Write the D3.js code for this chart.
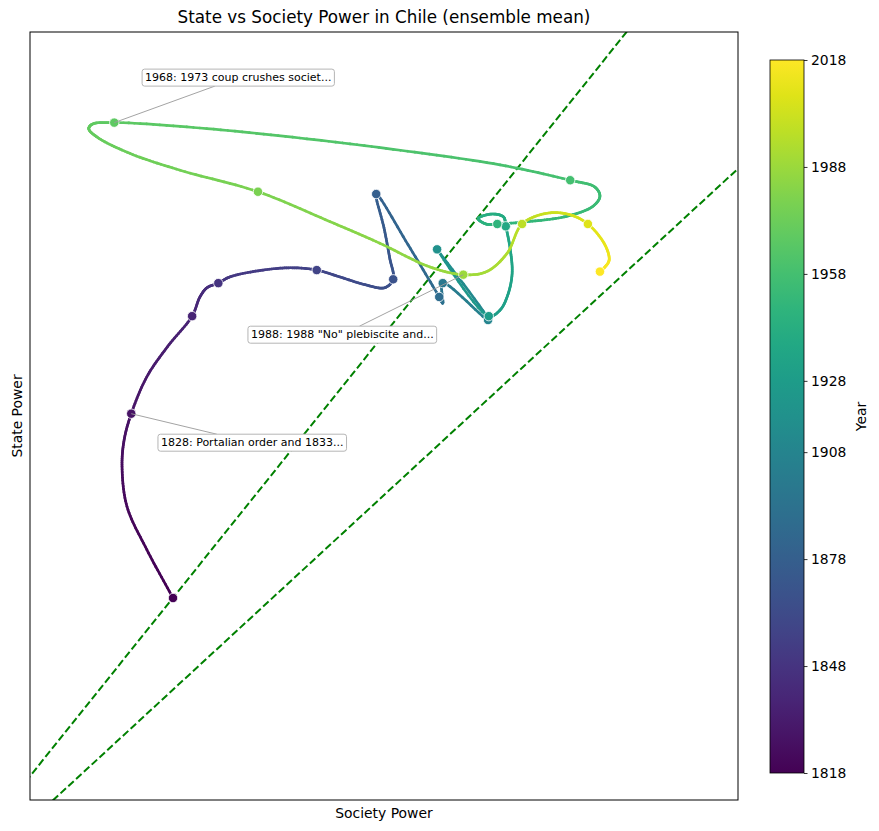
<!DOCTYPE html>
<html>
<head>
<meta charset="utf-8">
<script src="https://cdn.jsdelivr.net/npm/d3@7"></script>
<style>
  html, body { margin: 0; padding: 0; background: #fff; }
  text { font-family: "DejaVu Sans", sans-serif; }
</style>
</head>
<body>
<svg id="chart" width="879" height="831"></svg>
<script>
// ---------------- data ----------------
const years = [1818,1820,1822,1824,1826,1828,1831,1834,1838,1841,1844,1848,1850,1853,1856,1858,
  1861,1864,1866,1868,1871,1874,1878,1883,1888,1891,1898,1908,1918,1928,1930,1932,1934,1936,1938,
  1940,1942,1944,1946,1948,1950,1952,1954,1955,1956,1958,1960,1962,1964,1966,1968,1969,1970,1971,
  1973,1975,1978,1981,1983,1986,1988,1991,1994,1998,2001,2004,2008,2011,2014,2016,2018];
const societyPower = [20.2,16.5,13.7,13.0,13.3,14.3,16.5,19.4,22.9,24.0,25.0,26.6,28.2,32.9,37.1,40.5,
  43.8,47.3,50.1,51.3,50.8,50.0,48.9,53.4,57.8,58.3,58.3,64.7,57.5,64.8,66.4,67.5,68.1,67.8,67.2,
  66.9,65.3,63.3,64.4,66.0,70.2,75.8,79.5,80.5,79.8,76.3,66.4,52.3,38.1,24.0,11.9,8.8,8.3,9.5,
  14.1,21.2,32.2,42.4,49.4,56.5,61.2,64.5,67.4,69.5,73.0,76.3,78.8,81.2,81.8,81.2,80.5];
const statePower = [26.3,32.6,38.2,43.4,46.9,50.3,55.1,59.0,63.0,65.5,66.7,67.3,68.1,69.0,69.3,69.0,
  68.1,67.1,66.7,67.8,70.6,74.5,78.9,72.3,65.5,64.7,67.3,62.5,71.7,63.0,63.8,65.8,68.6,71.9,74.7,
  75.9,76.3,75.7,75.0,75.0,75.3,76.0,77.3,78.6,79.8,80.7,82.7,84.6,86.2,87.5,88.2,88.0,87.4,86.3,
  84.2,82.0,79.2,75.3,72.5,69.4,68.4,68.8,71.2,75.0,76.4,76.2,75.0,72.3,70.3,69.4,68.8];

const markerYears = [1818,1828,1838,1848,1858,1868,1878,1888,1898,1908,1918,1928,1938,1948,1958,1968,1978,1988,1998,2008,2018];

const annoYears = [1968, 1988, 1828];
const annoTexts = ["1968: 1973 coup crushes societ...", "1988: 1988 \"No\" plebiscite and...", "1828: Portalian order and 1833..."];

// reference lines: state = slope * society + intercept
const refSlopes = [1.15, 0.85];
const refIntercepts = [3.1, -2.8];

const cbarTicks = [1818,1848,1878,1908,1928,1958,1988,2018];
const titleText = "State vs Society Power in Chile (ensemble mean)";
const xLabel = "Society Power";
const yLabel = "State Power";
const cbarLabel = "Year";

// ---------------- layout ----------------
const plot = {left: 30, top: 32, right: 738, bottom: 800};
const cbar = {left: 770, right: 804, top: 60, bottom: 773};
const annoOffsets = [[124, -45], [-121, 60], [121, 29]]; // box-centre offsets in px

const svg = d3.select("#chart");
const x = d3.scaleLinear().domain([0, 100]).range([plot.left, plot.right]);
const y = d3.scaleLinear().domain([0, 100]).range([plot.bottom, plot.top]);
const yearScale = d3.scaleLinear().domain([1818, 2018]).range([0, 1]);
const color = yr => d3.interpolateViridis(yearScale(yr));

svg.append("defs").append("clipPath").attr("id", "clip")
  .append("rect").attr("x", plot.left).attr("y", plot.top)
  .attr("width", plot.right - plot.left).attr("height", plot.bottom - plot.top);

const g = svg.append("g").attr("clip-path", "url(#clip)");

// reference dashed lines
refSlopes.forEach((s, i) => {
  const x0 = -10, x1 = 110;
  g.append("line")
    .attr("x1", x(x0)).attr("y1", y(s * x0 + refIntercepts[i]))
    .attr("x2", x(x1)).attr("y2", y(s * x1 + refIntercepts[i]))
    .attr("stroke", "#008000").attr("stroke-width", 2)
    .attr("stroke-dasharray", "7.4,3.2");
});

// trajectory: centripetal Catmull-Rom through the read points, coloured by year
const pts = years.map((yr, i) => ({yr, px: x(societyPower[i]), py: y(statePower[i])}));
function cr(P0, P1, P2, P3, u) {
  const d = (a, b) => Math.max(Math.pow(Math.hypot(b.px - a.px, b.py - a.py), 0.5), 1e-3);
  const t0 = 0, t1 = t0 + d(P0, P1), t2 = t1 + d(P1, P2), t3 = t2 + d(P2, P3);
  const t = t1 + (t2 - t1) * u;
  const lerp = (A, B, ta, tb) => ({
    px: (tb - t) / (tb - ta) * A.px + (t - ta) / (tb - ta) * B.px,
    py: (tb - t) / (tb - ta) * A.py + (t - ta) / (tb - ta) * B.py });
  const A1 = lerp(P0, P1, t0, t1), A2 = lerp(P1, P2, t1, t2), A3 = lerp(P2, P3, t2, t3);
  const B1 = lerp(A1, A2, t0, t2), B2 = lerp(A2, A3, t1, t3);
  return lerp(B1, B2, t1, t2);
}
const segs = [];
const N = 14;
for (let i = 0; i < pts.length - 1; i++) {
  const P1 = pts[i], P2 = pts[i + 1];
  const P0 = i > 0 ? pts[i - 1] : {px: 2 * P1.px - P2.px, py: 2 * P1.py - P2.py};
  const P3 = i + 2 < pts.length ? pts[i + 2] : {px: 2 * P2.px - P1.px, py: 2 * P2.py - P1.py};
  let prev = {px: P1.px, py: P1.py};
  for (let k = 1; k <= N; k++) {
    const c = cr(P0, P1, P2, P3, k / N);
    const yr = P1.yr + (P2.yr - P1.yr) * (k - 0.5) / N;
    segs.push({a: prev, b: c, yr});
    prev = c;
  }
}
g.append("g").selectAll("line").data(segs).join("line")
  .attr("x1", d => d.a.px).attr("y1", d => d.a.py)
  .attr("x2", d => d.b.px).attr("y2", d => d.b.py)
  .attr("stroke", d => color(d.yr))
  .attr("stroke-width", 2.7).attr("stroke-linecap", "round");

// decade markers
const markers = pts.filter(p => markerYears.includes(p.yr));
g.append("g").selectAll("circle").data(markers).join("circle")
  .attr("cx", d => d.px).attr("cy", d => d.py).attr("r", 4.7)
  .attr("fill", d => color(d.yr)).attr("stroke", "#fff").attr("stroke-width", 0.8);

// annotations
annoYears.forEach((yr, i) => {
  const p = pts.find(q => q.yr === yr);
  const cx = p.px + annoOffsets[i][0], cy = p.py + annoOffsets[i][1];
  const ag = svg.append("g");
  const line = ag.append("line").attr("stroke", "#999").attr("stroke-width", 0.9);
  const rect = ag.append("rect").attr("rx", 2.5).attr("ry", 2.5)
    .attr("fill", "#fff").attr("stroke", "#b5b5b5").attr("stroke-width", 1);
  const txt = ag.append("text").attr("x", cx).attr("y", cy)
    .attr("text-anchor", "middle").attr("dominant-baseline", "central")
    .attr("font-size", "11px").attr("fill", "#000").text(annoTexts[i]);
  const bb = txt.node().getBBox();
  const padX = 3, padY = 2;
  const bx0 = bb.x - padX, bx1 = bb.x + bb.width + padX, by0 = bb.y - padY, by1 = bb.y + bb.height + padY;
  rect.attr("x", bx0).attr("y", by0).attr("width", bx1 - bx0).attr("height", by1 - by0);
  // clip leader line at box edge
  const dx = p.px - cx, dy = p.py - cy;
  const sx = dx !== 0 ? ((dx > 0 ? bx1 : bx0) - cx) / dx : Infinity;
  const sy = dy !== 0 ? ((dy > 0 ? by1 : by0) - cy) / dy : Infinity;
  const s = Math.min(sx, sy);
  line.attr("x1", cx + dx * s).attr("y1", cy + dy * s).attr("x2", p.px).attr("y2", p.py);
});

// axes frame
svg.append("rect").attr("x", plot.left).attr("y", plot.top)
  .attr("width", plot.right - plot.left).attr("height", plot.bottom - plot.top)
  .attr("fill", "none").attr("stroke", "#000").attr("stroke-width", 1);

// title and labels
svg.append("text").attr("x", (plot.left + plot.right) / 2).attr("y", 23)
  .attr("text-anchor", "middle").attr("font-size", "16.8px").text(titleText);
svg.append("text").attr("x", (plot.left + plot.right) / 2).attr("y", 818)
  .attr("text-anchor", "middle").attr("font-size", "13.9px").text(xLabel);
svg.append("text").attr("transform", `translate(22,${(plot.top + plot.bottom) / 2}) rotate(-90)`)
  .attr("text-anchor", "middle").attr("font-size", "13.9px").text(yLabel);

// colour bar
const grad = svg.select("defs").append("linearGradient").attr("id", "vir")
  .attr("x1", 0).attr("y1", 1).attr("x2", 0).attr("y2", 0);
d3.range(0, 1.0001, 0.05).forEach(t => {
  grad.append("stop").attr("offset", t).attr("stop-color", d3.interpolateViridis(t));
});
svg.append("rect").attr("x", cbar.left).attr("y", cbar.top)
  .attr("width", cbar.right - cbar.left).attr("height", cbar.bottom - cbar.top)
  .attr("fill", "url(#vir)").attr("stroke", "#000").attr("stroke-width", 0.8);
const cy = d3.scaleLinear().domain([1818, 2018]).range([cbar.bottom, cbar.top]);
const cax = svg.append("g").attr("transform", `translate(${cbar.right},0)`)
  .call(d3.axisRight(cy).tickValues(cbarTicks).tickFormat(d3.format("d")).tickSize(3.5).tickPadding(3.5));
cax.select(".domain").remove();
cax.selectAll("text").attr("font-size", "13.9px").attr("font-family", "DejaVu Sans");
cax.selectAll("line").attr("stroke-width", 0.8);
svg.append("text").attr("transform", `translate(866,${(cbar.top + cbar.bottom) / 2}) rotate(-90)`)
  .attr("text-anchor", "middle").attr("font-size", "13.9px").text(cbarLabel);
</script>
</body>
</html>
